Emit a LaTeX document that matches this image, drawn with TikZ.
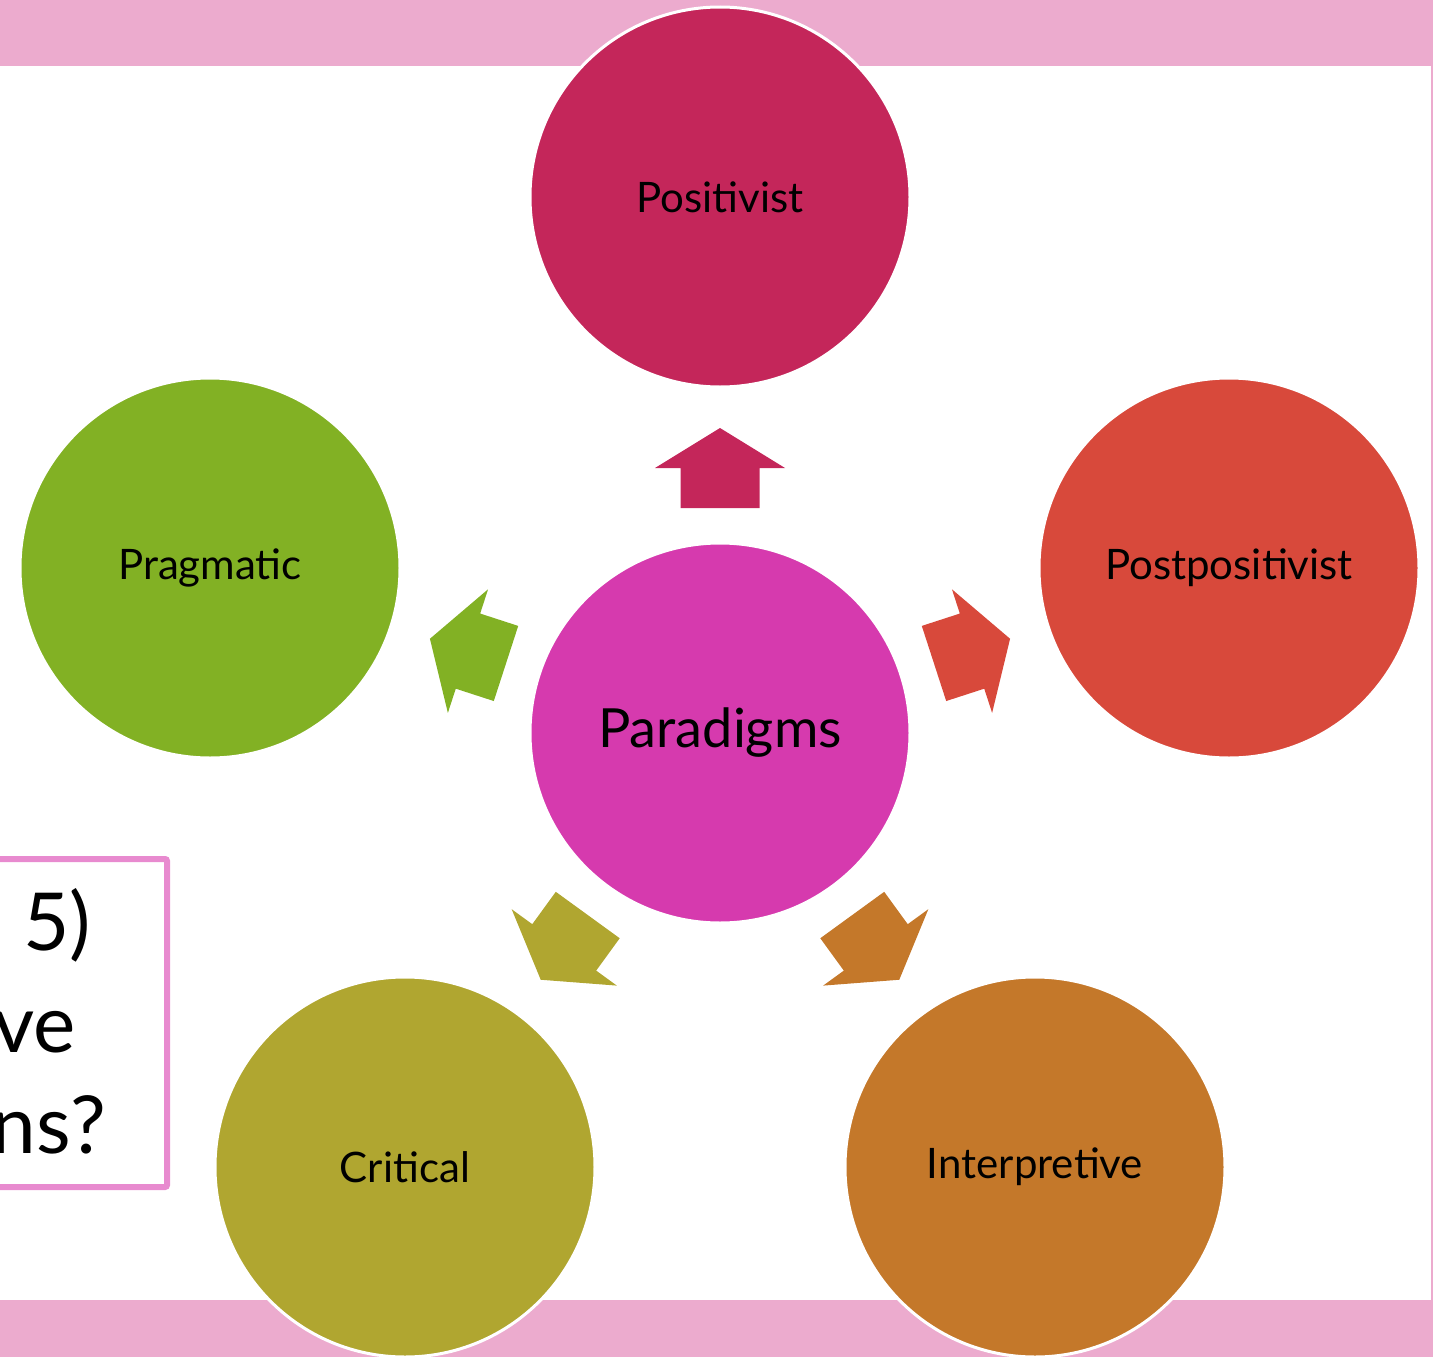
\documentclass[tikz,border=0pt]{standalone}
\usepackage{fontspec}
\setmainfont{Lato}
\definecolor{bandpink}{HTML}{ECABCE}
\definecolor{boxpink}{HTML}{E88ACF}
\definecolor{paracol}{HTML}{D63AAE}
\definecolor{poscol}{HTML}{C4265A}
\definecolor{postcol}{HTML}{D8493B}
\definecolor{intcol}{HTML}{C4782A}
\definecolor{critcol}{HTML}{B0A630}
\definecolor{pragcol}{HTML}{82B124}
\tikzset{
  bubble/.style={circle, draw=white, line width=3pt, minimum size=380pt,
    inner sep=0pt, font=\fontsize{42}{48}\selectfont},
  bigtext/.style={anchor=base east, inner sep=0pt, font=\fontsize{80}{90}\selectfont}
}
\begin{document}
\begin{tikzpicture}[x=1pt,y=-1pt]
  \useasboundingbox (0,0) rectangle (1433,1357);
  % pink bands
  \fill[bandpink] (0,0) rectangle (1433,66);
  \fill[bandpink] (0,1300) rectangle (1433,1357);
  \draw[bandpink, line width=2pt] (1432,66) -- (1432,1300);

  % question box
  \draw[boxpink, line width=6pt, rounded corners=2pt] (-20,859) rectangle (167,1187);
  \node[bigtext] (qa) at (91,950) {5)};
  \node[bigtext] (qb) at (76,1052) {ve};
  \node[bigtext] (qc) at (106,1153) {ns?};

  % circles
  \node[bubble, fill=paracol, font=\fontsize{54}{60}\selectfont] (para) at (720,733) {Paradigms};
  \node[bubble, fill=poscol] (pos) at (720,197) {Positivist};
  \node[bubble, fill=postcol] (post) at (1229,568) {Postpositivist};
  \node[bubble, fill=intcol] (interp) at (1035,1167) {Interpretive};
  \node[bubble, fill=critcol] (crit) at (405,1167) {Critical};
  \node[bubble, fill=pragcol] (prag) at (210,568) {Pragmatic};

  % block arrows
  \foreach \ang/\col in {90/poscol, 18/postcol, -54/intcol, -126/critcol, 162/pragcol}
    \fill[\col, shift={(para.center)}, rotate=\ang]
      (225,-39.5) -- (265,-39.5) -- (265,-65) -- (305,0) -- (265,65)
      -- (265,39.5) -- (225,39.5) -- cycle;
\end{tikzpicture}
\end{document}
